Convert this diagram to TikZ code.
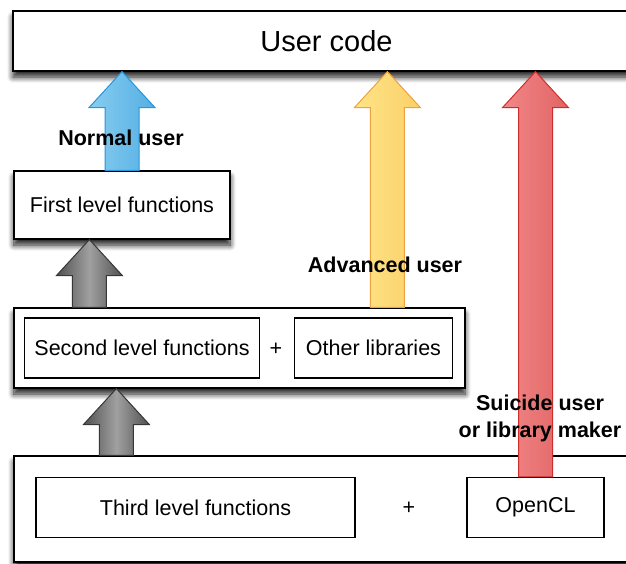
\documentclass[tikz,border=0pt]{standalone}
\usepackage{fontspec}
\setmainfont{Liberation Sans}
\usetikzlibrary{calc,shadows.blur}

\definecolor{bluefill}{RGB}{135,205,240}
\definecolor{bluedark}{RGB}{85,175,228}
\definecolor{blueline}{RGB}{40,150,215}
\definecolor{yellowfill}{RGB}{255,228,135}
\definecolor{yellowdark}{RGB}{250,208,105}
\definecolor{yellowline}{RGB}{240,160,60}
\definecolor{redfill}{RGB}{242,135,135}
\definecolor{reddark}{RGB}{225,100,100}
\definecolor{redline}{RGB}{205,45,45}
\definecolor{graymid}{RGB}{160,160,160}
\definecolor{grayedge}{RGB}{80,80,80}
\definecolor{grayline}{RGB}{55,55,55}

\begin{document}
\begin{tikzpicture}
      [
      x=1pt,y=-1pt,
      box/.style={draw,line width=1.2pt,fill=white,inner sep=0pt,minimum height=60pt,font=\fontsize{21.5}{26}\selectfont},
      layer/.style={box,blur shadow={shadow xshift=0pt,shadow yshift=-6pt,shadow blur radius=6pt,shadow blur steps=8,shadow opacity=90}},
      fatarrow/.style={line width=1pt,to path={let \p1=(\tikztostart), \p2=(\tikztotarget) in
        (\x1-17pt,\y1) -- (\x1-17pt,\y2-36pt) -- (\x1-33pt,\y2-36pt) -- (\x1,\y2)
        -- (\x1+33pt,\y2-36pt) -- (\x1+17pt,\y2-36pt) -- (\x1+17pt,\y1) -- cycle}},
      usertext/.style={font=\fontsize{21.5}{27}\selectfont\bfseries,align=center}
      ]
      \useasboundingbox (0,0) rectangle (626,563);
      % layers
      \node (user) at (326.5,41) [layer,minimum width=627pt,font=\fontsize{29}{34}\selectfont] {User code};
      \node (third) at (327,509) [layer,minimum width=626pt,minimum height=106pt] {};
      \node (second) at (239.5,348) [layer,minimum width=451pt,minimum height=80pt] {};
      \node (first) at (122,205) [layer,minimum width=216pt,minimum height=68pt] {First level functions};
      \node (secondfun) at (142,348) [box,minimum width=235pt] {Second level functions};
      \node (plusa) at (276,349) [font=\fontsize{21.5}{26}\selectfont] {+};
      \node (otherlib) at (373.5,348) [box,minimum width=158pt] {Other libraries};
      \node (thirdfun) at (195.5,507.5) [box,minimum width=319pt] {Third level functions};
      \node (plusb) at (409,508) [font=\fontsize{21.5}{26}\selectfont] {+};
      \node (opencl) at (535.5,507.5) [box,minimum width=137pt] {OpenCL};
      % arrows
      \draw [fatarrow,draw=grayline,left color=grayedge,right color=grayedge,middle color=graymid]
        ([xshift=76pt]second.north west) to ([xshift=76pt]first.south west);
      \draw [fatarrow,draw=grayline,left color=grayedge,right color=grayedge,middle color=graymid]
        ([xshift=103pt]third.north west) to ([xshift=103pt]second.south west);
      \draw [fatarrow,draw=blueline,left color=bluefill,right color=bluedark]
        (first.north) to (first.north |- user.south);
      \draw [fatarrow,draw=yellowline,left color=yellowfill,right color=yellowdark]
        ([xshift=374pt]second.north west) to ([xshift=375pt]user.south west);
      \draw [fatarrow,draw=redline,left color=redfill,right color=reddark]
        (opencl.north) to (opencl.north |- user.south);
      % users
      \node (normal) at (121,138) [usertext] {Normal user};
      \node (advanced) at (385,265) [usertext] {Advanced user};
      \node (suicide) at (540,418) [usertext] {Suicide user\\or library maker};
    \end{tikzpicture}
\end{document}
